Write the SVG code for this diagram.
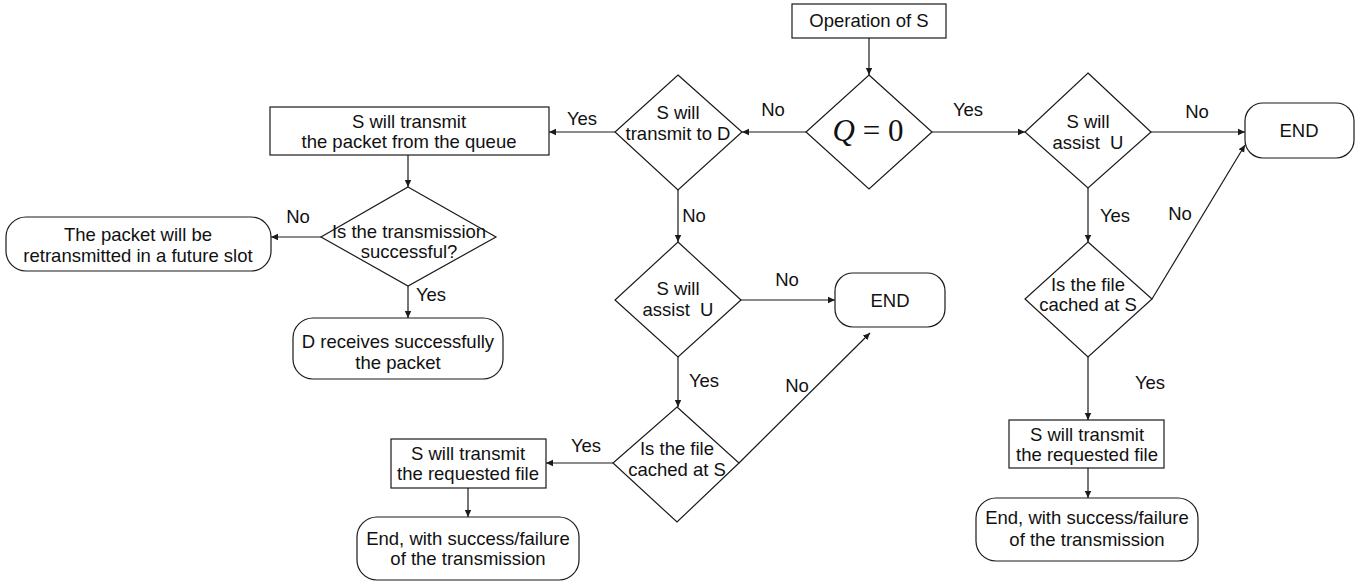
<svg xmlns="http://www.w3.org/2000/svg" width="1369" height="585" viewBox="0 0 1369 585">
<style>
.n{fill:#fff;stroke:#1a1a1a;stroke-width:1.2}
.t{font-family:"Liberation Sans",Arial,sans-serif;font-size:18.5px;fill:#111;text-anchor:middle}
.c{fill:none;stroke:#1a1a1a;stroke-width:1.2}
</style>
<defs>
<marker id="ah" markerWidth="8" markerHeight="8" refX="7" refY="4" orient="auto" markerUnits="userSpaceOnUse">
<path d="M0,0.8 L7,4 L0,7.2 Z" fill="#1a1a1a"/>
</marker>
</defs>
<rect width="1369" height="585" fill="#fff"/>
<g id="connectors">
<path class="c" d="M869,38 L869,75" marker-end="url(#ah)"/>
<path class="c" d="M806,132 L742,132" marker-end="url(#ah)"/>
<path class="c" d="M932,132 L1025,132" marker-end="url(#ah)"/>
<path class="c" d="M1151,132 L1245,132" marker-end="url(#ah)"/>
<path class="c" d="M1088,188 L1088,242" marker-end="url(#ah)"/>
<path class="c" d="M1152,299 L1245,145" marker-end="url(#ah)"/>
<path class="c" d="M1088,357 L1088,420" marker-end="url(#ah)"/>
<path class="c" d="M1088,468 L1088,498" marker-end="url(#ah)"/>
<path class="c" d="M615,132 L549,132" marker-end="url(#ah)"/>
<path class="c" d="M408,155 L408,187" marker-end="url(#ah)"/>
<path class="c" d="M321,237 L271,237" marker-end="url(#ah)"/>
<path class="c" d="M408,286 L408,318" marker-end="url(#ah)"/>
<path class="c" d="M678,190 L678,242" marker-end="url(#ah)"/>
<path class="c" d="M741,300 L835,300" marker-end="url(#ah)"/>
<path class="c" d="M678,357 L678,407" marker-end="url(#ah)"/>
<path class="c" d="M739,463 L870,333" marker-end="url(#ah)"/>
<path class="c" d="M613,463 L546,463" marker-end="url(#ah)"/>
<path class="c" d="M468,488 L468,517" marker-end="url(#ah)"/>
<text class="t" x="773" y="116">No</text>
<text class="t" x="968" y="116">Yes</text>
<text class="t" x="582" y="125">Yes</text>
<text class="t" x="1197" y="118">No</text>
<text class="t" x="1115" y="222">Yes</text>
<text class="t" x="1180" y="220">No</text>
<text class="t" x="1150" y="389">Yes</text>
<text class="t" x="298" y="223">No</text>
<text class="t" x="431" y="301">Yes</text>
<text class="t" x="694" y="222">No</text>
<text class="t" x="787" y="286">No</text>
<text class="t" x="704" y="387">Yes</text>
<text class="t" x="797" y="392">No</text>
<text class="t" x="586" y="452">Yes</text>
</g>
<g id="op">
<rect class="n" x="792" y="4" width="154" height="34"/>
<text class="t" x="869" y="27">Operation of S</text>
</g>
<g id="q0">
<path class="n" d="M869,75 L932,132 L869,189 L806,132 Z"/>
<text x="868" y="141" style="font-family:'Liberation Serif','Times New Roman',serif;font-size:31px;fill:#111;text-anchor:middle"><tspan font-style="italic">Q</tspan> = 0</text>
</g>
<g id="txd">
<path class="n" d="M678,75 L742,132 L678,190 L615,132 Z"/>
<text class="t" x="678" y="119">S will</text>
<text class="t" x="678" y="140">transmit to D</text>
</g>
<g id="assistR">
<path class="n" d="M1088,73 L1151,132 L1088,188 L1025,132 Z"/>
<text class="t" x="1088" y="128">S will</text>
<text class="t" x="1088" y="149">assist&#160; U</text>
</g>
<g id="endR">
<rect class="n" x="1245" y="103" width="109" height="55" rx="18"/>
<text class="t" x="1299" y="137">END</text>
</g>
<g id="cachedR">
<path class="n" d="M1088,242 L1152,299 L1088,357 L1025,299 Z"/>
<text class="t" x="1088" y="291">Is the file</text>
<text class="t" x="1088" y="311">cached at S</text>
</g>
<g id="sendR">
<rect class="n" x="1009" y="420" width="155" height="48"/>
<text class="t" x="1087" y="441">S will transmit</text>
<text class="t" x="1087" y="461">the requested file</text>
</g>
<g id="finR">
<rect class="n" x="976" y="498" width="222" height="63" rx="20"/>
<text class="t" x="1087" y="524">End, with success/failure</text>
<text class="t" x="1087" y="546">of the transmission</text>
</g>
<g id="queue">
<rect class="n" x="270" y="107" width="279" height="48"/>
<text class="t" x="409" y="128">S will transmit</text>
<text class="t" x="409" y="148">the packet from the queue</text>
</g>
<g id="success">
<path class="n" d="M408,187 L496,237 L408,286 L321,237 Z"/>
<text class="t" x="409" y="238">Is the transmission</text>
<text class="t" x="409" y="258">successful?</text>
</g>
<g id="retx">
<rect class="n" x="6" y="217" width="265" height="54" rx="20"/>
<text class="t" x="138" y="241">The packet will be</text>
<text class="t" x="138" y="262">retransmitted in a future slot</text>
</g>
<g id="recv">
<rect class="n" x="293" y="318" width="210" height="61" rx="20"/>
<text class="t" x="398" y="348">D receives successfully</text>
<text class="t" x="398" y="369">the packet</text>
</g>
<g id="assistM">
<path class="n" d="M678,242 L741,300 L678,357 L615,300 Z"/>
<text class="t" x="678" y="295">S will</text>
<text class="t" x="678" y="316">assist&#160; U</text>
</g>
<g id="endM">
<rect class="n" x="835" y="273" width="110" height="54" rx="18"/>
<text class="t" x="890" y="307">END</text>
</g>
<g id="cachedM">
<path class="n" d="M677,407 L739,463 L677,522 L613,463 Z"/>
<text class="t" x="677" y="455">Is the file</text>
<text class="t" x="677" y="476">cached at S</text>
</g>
<g id="sendL">
<rect class="n" x="391" y="439" width="155" height="49"/>
<text class="t" x="468" y="460">S will transmit</text>
<text class="t" x="468" y="480">the requested file</text>
</g>
<g id="finL">
<rect class="n" x="357" y="517" width="222" height="63" rx="20"/>
<text class="t" x="468" y="545">End, with success/failure</text>
<text class="t" x="468" y="565">of the transmission</text>
</g>
</svg>
